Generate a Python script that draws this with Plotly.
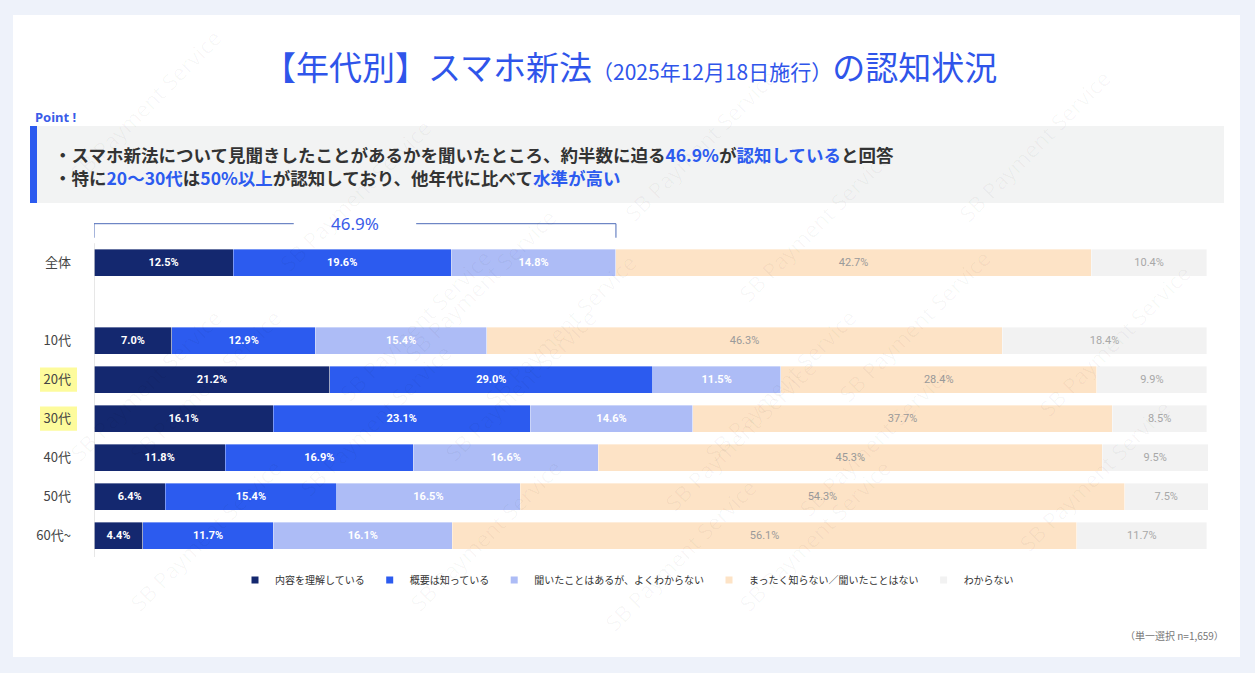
import plotly.graph_objects as go

categories = ["全体", "10代", "20代", "30代", "40代", "50代", "60代~"]
row_pos = [0, 2, 3, 4, 5, 6, 7]
series_names = ["内容を理解している", "概要は知っている", "聞いたことはあるが、よくわからない",
                "まったく知らない／聞いたことはない", "わからない"]
v_understand = [12.5, 7.0, 21.2, 16.1, 11.8, 6.4, 4.4]
v_know = [19.6, 12.9, 29.0, 23.1, 16.9, 15.4, 11.7]
v_heard = [14.8, 15.4, 11.5, 14.6, 16.6, 16.5, 16.1]
v_never = [42.7, 46.3, 28.4, 37.7, 45.3, 54.3, 56.1]
v_dk = [10.4, 18.4, 9.9, 8.5, 9.5, 7.5, 11.7]
aware_total = 46.9
highlight_rows = ["20代", "30代"]

series_values = [v_understand, v_know, v_heard, v_never, v_dk]
colors = ["#14286f", "#2c5bef", "#adbcf6", "#fde3c6", "#f2f2f2"]
label_colors = ["white", "white", "white", "#9a9a9a", "#a8a8a8"]
label_weights = ["bold", "bold", "bold", "normal", "normal"]

FONT = "Noto Sans CJK JP"
W, H = 1255, 673
PL, PR, PT, PB = 94, 1208, 212, 557


def px2x(px):
    return (px - PL) / (PR - PL)


def py2y(py):
    return (PB - py) / (PB - PT)


fig = go.Figure()

for name, vals, col, lc, lw in zip(series_names, series_values, colors, label_colors, label_weights):
    fig.add_trace(go.Bar(
        y=row_pos, x=vals, orientation="h", name=name,
        marker=dict(color=col, line=dict(color="rgba(255,255,255,0.6)", width=0.6)),
        width=0.69,
        text=[f"{v:.1f}%" for v in vals], textposition="inside", insidetextanchor="middle",
        textfont=dict(family="Liberation Sans Narrow, Roboto, " + FONT, size=11, color=lc, weight=lw),
        showlegend=False, hoverinfo="skip",
    ))
    fig.add_trace(go.Scatter(
        x=[None], y=[None], mode="markers", name=name,
        marker=dict(symbol="square", size=7, color=col),
        showlegend=True,
    ))

shapes = []
shapes.append(dict(type="rect", xref="paper", yref="paper", layer="below",
                   x0=px2x(13), x1=px2x(1240), y0=py2y(657), y1=py2y(15),
                   fillcolor="white", line=dict(width=0)))
shapes.append(dict(type="rect", xref="paper", yref="paper", layer="below",
                   x0=px2x(30), x1=px2x(1224), y0=py2y(203), y1=py2y(126),
                   fillcolor="#f2f3f3", line=dict(width=0)))
shapes.append(dict(type="rect", xref="paper", yref="paper", layer="below",
                   x0=px2x(30), x1=px2x(37), y0=py2y(203), y1=py2y(126),
                   fillcolor="#2c5bef", line=dict(width=0)))
for cat, pos in zip(categories, row_pos):
    if cat in highlight_rows:
        shapes.append(dict(type="rect", xref="paper", yref="y", layer="below",
                           x0=px2x(40), x1=px2x(77), y0=pos - 0.31, y1=pos + 0.31,
                           fillcolor="#fdfb9c", line=dict(width=0)))
shapes.append(dict(type="line", xref="x", yref="y", x0=0, x1=0, y0=-0.5, y1=7.55,
                   line=dict(color="#d0d0d0", width=1)))
br_y, br_tip = -1.0, -0.64
gap = 5.5
half = aware_total / 2
bracket_col = "#4d6bb8"
for seg in [(0, half - gap), (half + gap, aware_total)]:
    shapes.append(dict(type="line", xref="x", yref="y", x0=seg[0], x1=seg[1], y0=br_y, y1=br_y,
                       line=dict(color=bracket_col, width=1)))
for xx in [0, aware_total]:
    shapes.append(dict(type="line", xref="x", yref="y", x0=xx, x1=xx, y0=br_y, y1=br_tip,
                       line=dict(color=bracket_col, width=1)))

annotations = []
wm_pts = [(60, 20), (270, 110), (480, 200), (700, 60), (900, 140), (1120, 60),
          (120, 300), (330, 240), (560, 330), (780, 300), (1000, 240), (1200, 340),
          (60, 470), (290, 420), (520, 470), (740, 520), (960, 440), (1180, 560),
          (120, 620), (400, 620), (680, 640), (900, 620)]
for (wx, wy) in wm_pts:
    annotations.append(dict(xref="paper", yref="paper", x=px2x(wx), y=py2y(wy),
                            text="SB Payment Service", showarrow=False, textangle=-45,
                            font=dict(family="Noto Sans", size=22, color="rgba(0,0,0,0.03)")))

title = ("【年代別】スマホ新法<span style='font-size:21px'>（2025年12月18日施行）</span>の認知状況")
annotations.append(dict(xref="paper", yref="paper", x=px2x(630), y=py2y(66), text=title,
                        showarrow=False, xanchor="center", yanchor="middle",
                        font=dict(family=FONT, size=33, color="#2f55ea")))
annotations.append(dict(xref="paper", yref="paper", x=px2x(33), y=py2y(117), text="<b>Point !</b>",
                        showarrow=False, xanchor="left", yanchor="middle",
                        font=dict(family="Noto Sans", size=13, color="#3a5ce8")))
blue = "#2c5bef"
line1 = ("・スマホ新法について見聞きしたことがあるかを聞いたところ、約半数に迫る"
         f"<span style='color:{blue}'>46.9%</span>が<span style='color:{blue}'>認知している</span>と回答")
line2 = (f"・特に<span style='color:{blue}'>20～30代</span>は<span style='color:{blue}'>50%以上</span>"
         f"が認知しており、他年代に比べて<span style='color:{blue}'>水準が高い</span>")
annotations.append(dict(xref="paper", yref="paper", x=px2x(52), y=py2y(166),
                        text=f"<b>{line1}<br>{line2}</b>",
                        showarrow=False, xanchor="left", yanchor="middle", align="left",
                        font=dict(family=FONT, size=17.5, color="#333333")))
annotations.append(dict(xref="x", yref="y", x=half, y=br_y, text=f"{aware_total}%",
                        showarrow=False, xanchor="center", yanchor="middle",
                        font=dict(family="Noto Sans", size=17, color="#3a5ce8")))
annotations.append(dict(xref="paper", yref="paper", x=px2x(1226), y=py2y(635), text="（単一選択 n=1,659）",
                        showarrow=False, xanchor="right", yanchor="middle",
                        font=dict(family=FONT, size=10, color="#777777")))

fig.update_layout(
    width=W, height=H,
    margin=dict(l=PL, r=W - PR, t=PT, b=H - PB, pad=0),
    barmode="stack", bargap=0.3,
    paper_bgcolor="#eef2fa", plot_bgcolor="rgba(0,0,0,0)",
    font=dict(family=FONT, color="#444444"),
    xaxis=dict(range=[0, 100.1], visible=False, fixedrange=True),
    yaxis=dict(range=[7.55, -1.3], tickvals=row_pos, ticktext=categories, showgrid=False,
               zeroline=False, showline=False, ticks="", ticklabelstandoff=22,
               tickfont=dict(family=FONT, size=13, color="#444444")),
    legend=dict(orientation="h", x=px2x(235), y=py2y(580), xanchor="left", yanchor="middle",
                font=dict(family=FONT, size=10, color="#333333"), itemwidth=30,
                traceorder="normal",
                bgcolor="rgba(0,0,0,0)", tracegroupgap=0),
    shapes=shapes, annotations=annotations,
    uniformtext=dict(mode="show", minsize=8),
)

fig.write_html("out.html", config={"displayModeBar": False},
               post_script="document.body.style.margin='0';")
